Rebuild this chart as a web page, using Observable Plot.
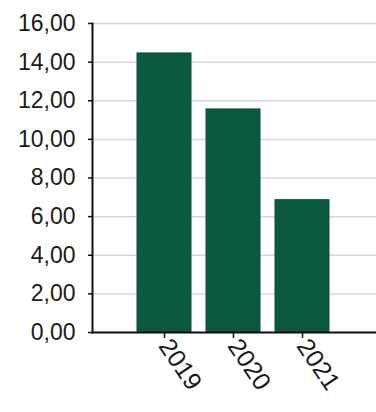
<!DOCTYPE html>
<html>
<head>
<meta charset="utf-8">
<script src="https://cdn.jsdelivr.net/npm/d3@7"></script>
<script src="https://cdn.jsdelivr.net/npm/@observablehq/plot@0.6"></script>
<style>
  html, body { margin: 0; padding: 0; background: #fff; }
  svg { display: block; }
</style>
</head>
<body>
<div id="chart"></div>
<script>
const years = ["2019", "2020", "2021"];
const values = [14.45, 11.55, 6.85];
const yTicks = [0, 2, 4, 6, 8, 10, 12, 14, 16];

const data = years.map((y, i) => ({year: y, value: values[i]}));
const fmt = d => d.toFixed(2).replace(".", ",");

const chart = Plot.plot({
  width: 376,
  height: 412,
  marginLeft: 92,
  marginRight: 0,
  marginTop: 23,
  marginBottom: 80,
  style: {fontFamily: "'Liberation Sans', Arial, sans-serif", fontSize: "23px", color: "#111", background: "#fff"},
  x: {domain: years, paddingInner: 0.22, paddingOuter: 0.66, align: 0.49, label: null},
  y: {domain: [0, 16], label: null},
  marks: [
    Plot.gridY(yTicks, {stroke: "#d8d8d8", strokeOpacity: 1, strokeWidth: 1.5}),
    Plot.barY(data, {x: "year", y: "value", fill: "#0b5a3d", stroke: "#0a4f36", strokeWidth: 1}),
    Plot.axisY(yTicks, {tickFormat: fmt, tickSize: 4, tickPadding: 13, stroke: "#111", strokeWidth: 1.5, fill: "#1a1a1a", style: "letter-spacing: 0.3px"}),
    Plot.axisX({tickSize: 6, tickPadding: 3, tickRotate: 56, fontSize: 25, stroke: "#111", strokeWidth: 1.5, fill: "#1a1a1a", style: "letter-spacing: 1px"}),
    Plot.frame({anchor: "left", stroke: "#111", strokeWidth: 2}),
    Plot.frame({anchor: "bottom", stroke: "#111", strokeWidth: 2})
  ]
});
document.getElementById("chart").appendChild(chart);
</script>
</body>
</html>
